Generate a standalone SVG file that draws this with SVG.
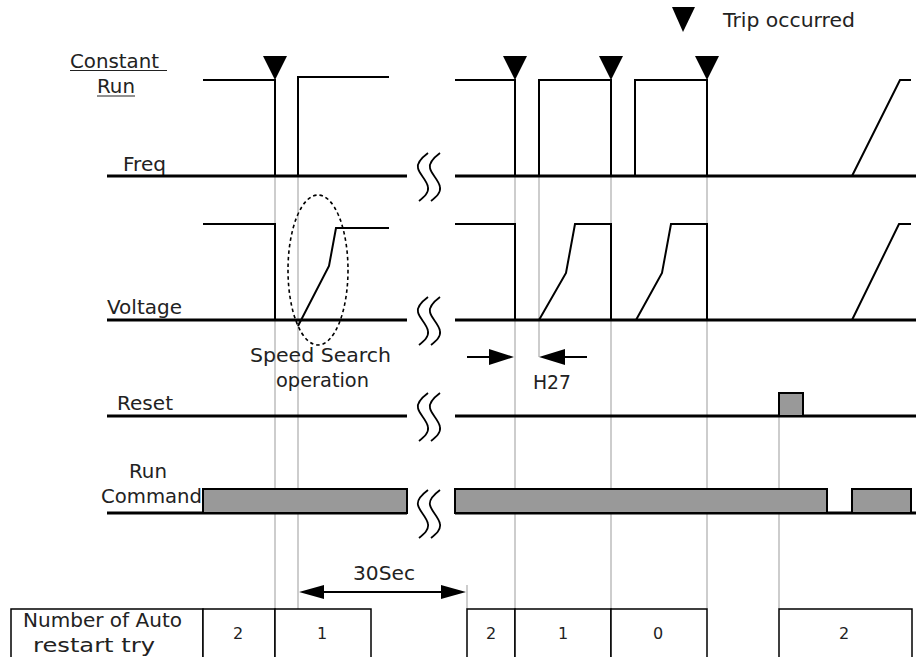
<svg xmlns="http://www.w3.org/2000/svg" xmlns:xlink="http://www.w3.org/1999/xlink" width="916" height="657" viewBox="0 0 916 657">
<style>
text{font-family:"DejaVu Sans","Liberation Sans",sans-serif;font-size:19.5px;fill:#222}
.num{font-size:16px;text-anchor:middle}
.guide{stroke:#bdbdbd;stroke-width:1.5;fill:none}
.sig{stroke:#000;stroke-width:2;fill:none;stroke-linejoin:miter}
.base{stroke:#000;stroke-width:3;fill:none}
.bar{fill:#999;stroke:#000;stroke-width:2}
.cell{fill:#fff;stroke:#000;stroke-width:1.5}
.sq{stroke:#000;stroke-width:1.8;fill:none}
.ul{stroke:#222;stroke-width:1.2}
</style>
<defs>
<g id="squiggle">
<path class="sq" d="M428,-23 C420,-17 417,-12 418,-8 C419,-2 427,4 428,11 C429,17 424,21 419,25"/>
<path class="sq" d="M440,-23 C432,-17 429,-12 430,-8 C431,-2 439,4 440,11 C441,17 436,21 431,25"/>
</g>
</defs>
<rect width="916" height="657" fill="#fff"/>

<g id="guides">
<line class="guide" x1="275" y1="176" x2="275" y2="609"/>
<line class="guide" x1="298" y1="176" x2="298" y2="609"/>
<line class="guide" x1="515" y1="176" x2="515" y2="609"/>
<line class="guide" x1="539" y1="176" x2="539" y2="357"/>
<line class="guide" x1="611" y1="176" x2="611" y2="609"/>
<line class="guide" x1="707" y1="176" x2="707" y2="609"/>
<line class="guide" x1="779" y1="416" x2="779" y2="609"/>
<line class="guide" x1="467" y1="585" x2="467" y2="609"/>
</g>

<g id="legend">
<polygon points="672,7 695,7 683,32" fill="#000"/>
<text x="723" y="27" textLength="132" lengthAdjust="spacingAndGlyphs">Trip occurred</text>
</g>

<g id="freq">
<text x="70" y="68" textLength="89" lengthAdjust="spacingAndGlyphs">Constant</text>
<line class="ul" x1="70" y1="70.5" x2="167" y2="70.5"/>
<text x="97" y="93" textLength="38" lengthAdjust="spacingAndGlyphs">Run</text>
<line class="ul" x1="97" y1="96" x2="135" y2="96"/>
<text x="123" y="171" textLength="43" lengthAdjust="spacingAndGlyphs">Freq</text>
<line class="base" x1="107" y1="176" x2="407" y2="176"/>
<line class="base" x1="455" y1="176" x2="916" y2="176"/>
<polyline class="sig" points="203,80 275,80 275,176"/>
<polyline class="sig" points="298,176 298,77 389,77"/>
<polyline class="sig" points="455,80 515,80 515,176"/>
<polyline class="sig" points="539,176 539,80 611,80 611,176"/>
<polyline class="sig" points="635,176 635,80 707,80 707,176"/>
<polyline class="sig" points="852,176 900,80 911,80"/>
<polygon points="263,56 287,56 275,80" fill="#000"/>
<polygon points="503,56 527,56 515,80" fill="#000"/>
<polygon points="599,56 623,56 611,80" fill="#000"/>
<polygon points="695,56 719,56 707,80" fill="#000"/>
<use xlink:href="#squiggle" transform="translate(0,176)"/>
</g>

<g id="voltage">
<text x="107" y="314" textLength="75" lengthAdjust="spacingAndGlyphs">Voltage</text>
<line class="base" x1="107" y1="320" x2="407" y2="320"/>
<line class="base" x1="455" y1="320" x2="916" y2="320"/>
<polyline class="sig" points="203,224 275,224 275,320"/>
<polyline class="sig" points="298,326 329,266 336,228 389,228"/>
<polyline class="sig" points="455,224 515,224 515,320"/>
<polyline class="sig" points="539,320 566,273 575,224 611,224 611,320"/>
<polyline class="sig" points="636,320 662,273 671,224 707,224 707,320"/>
<polyline class="sig" points="852,320 899,224 911,224"/>
<ellipse cx="318" cy="270" rx="30" ry="75" fill="none" stroke="#000" stroke-width="1.6" stroke-dasharray="3.5,3"/>
<use xlink:href="#squiggle" transform="translate(0,320)"/>
</g>

<g id="speed-search-label">
<text x="250" y="362" textLength="141" lengthAdjust="spacingAndGlyphs">Speed Search</text>
<text x="276" y="387" textLength="93" lengthAdjust="spacingAndGlyphs">operation</text>
</g>

<g id="h27">
<line class="sig" x1="467" y1="357" x2="492" y2="357"/>
<polygon points="514,357 489,349 489,365" fill="#000"/>
<line class="sig" x1="562" y1="357" x2="587" y2="357"/>
<polygon points="539,357 565,349 565,365" fill="#000"/>
<text x="533" y="389" textLength="38" lengthAdjust="spacingAndGlyphs">H27</text>
</g>

<g id="reset">
<text x="117" y="410" textLength="56" lengthAdjust="spacingAndGlyphs">Reset</text>
<line class="base" x1="107" y1="416" x2="407" y2="416"/>
<line class="base" x1="455" y1="416" x2="916" y2="416"/>
<rect class="bar" x="779" y="393" width="24" height="23"/>
<use xlink:href="#squiggle" transform="translate(0,416)"/>
</g>

<g id="run-command">
<text x="129" y="478" textLength="38" lengthAdjust="spacingAndGlyphs">Run</text>
<text x="101" y="503" textLength="101" lengthAdjust="spacingAndGlyphs">Command</text>
<line class="base" x1="107" y1="513" x2="407" y2="513"/>
<line class="base" x1="455" y1="513" x2="916" y2="513"/>
<rect class="bar" x="203" y="489" width="204" height="24"/>
<rect class="bar" x="455" y="489" width="372" height="24"/>
<rect class="bar" x="852" y="489" width="59" height="24"/>
<use xlink:href="#squiggle" transform="translate(0,513)"/>
</g>

<g id="sec30">
<line class="sig" x1="320" y1="592" x2="445" y2="592"/>
<polygon points="299,592 324,585 324,599" fill="#000"/>
<polygon points="466,592 441,585 441,599" fill="#000"/>
<text x="353" y="580" textLength="62" lengthAdjust="spacingAndGlyphs">30Sec</text>
</g>

<g id="table">
<rect class="cell" x="11" y="609" width="192" height="50"/>
<rect class="cell" x="203" y="609" width="72" height="50"/>
<rect class="cell" x="275" y="609" width="96" height="50"/>
<rect class="cell" x="467" y="609" width="48" height="50"/>
<rect class="cell" x="515" y="609" width="96" height="50"/>
<rect class="cell" x="611" y="609" width="96" height="50"/>
<rect class="cell" x="779" y="609" width="133" height="50"/>
<text x="23" y="627" textLength="159" lengthAdjust="spacingAndGlyphs">Number of Auto</text>
<text x="33" y="652" textLength="122" lengthAdjust="spacingAndGlyphs">restart try</text>
<text class="num" x="238" y="639">2</text>
<text class="num" x="322" y="639">1</text>
<text class="num" x="491" y="639">2</text>
<text class="num" x="563" y="639">1</text>
<text class="num" x="658" y="639">0</text>
<text class="num" x="844" y="639">2</text>
</g>
</svg>
